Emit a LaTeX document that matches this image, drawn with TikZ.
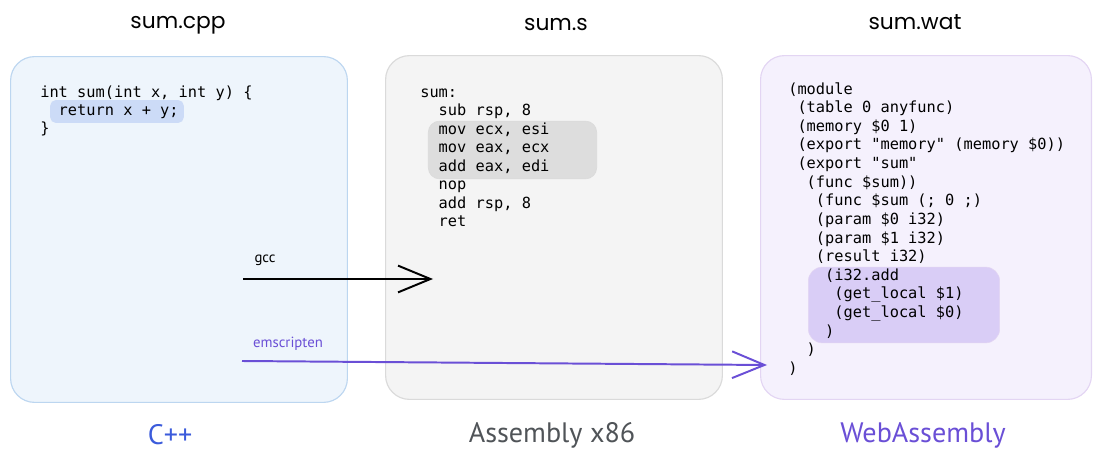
\documentclass[tikz,border=0pt]{standalone}
\usepackage{fontspec}
\setmonofont{DejaVu Sans Mono}
\newfontfamily\titlefont{Poppins}
\newfontfamily\handfont{PT Sans}
\usetikzlibrary{arrows.meta}
\definecolor{cppfill}{HTML}{EEF5FC}
\definecolor{cppline}{HTML}{BCD6F0}
\definecolor{cppmark}{HTML}{CCDBF7}
\definecolor{asmfill}{HTML}{F4F4F4}
\definecolor{asmline}{HTML}{DADADA}
\definecolor{asmmark}{HTML}{DDDDDD}
\definecolor{watfill}{HTML}{F5F1FD}
\definecolor{watline}{HTML}{E3D5F3}
\definecolor{watmark}{HTML}{D9CDF6}
\definecolor{cppblue}{HTML}{3B5BDB}
\definecolor{asmgray}{HTML}{505458}
\definecolor{wasmviolet}{HTML}{6A4FD6}

\begin{document}
\begin{tikzpicture}[x=0.025cm,y=-0.025cm,
  panel/.style={line width=0.8pt,rounded corners=17pt,inner sep=0pt},
  hilite/.style={rounded corners=6pt,inner sep=0pt},
  code/.style={anchor=base west,align=left,inner sep=0pt,font=\ttfamily\fontsize{10.9}{13.1}\selectfont},
  title/.style={font=\titlefont\fontsize{15.5}{18}\selectfont},
  lang/.style={inner sep=0pt,font=\handfont\fontsize{20}{24}\selectfont},
  tool/.style={font=\handfont\fontsize{10.5}{12}\selectfont},
  pass/.style={line width=1.4pt,-{Straight Barb[length=23pt,width=19pt]}}]
\useasboundingbox (0,0) rectangle (1093,452);

\node (cpp) [panel,fill=cppfill,draw=cppline,minimum width=239.5pt,minimum height=245.9pt] at (179,229.5) {};
\node (asm) [panel,fill=asmfill,draw=asmline,minimum width=239.5pt,minimum height=244.5pt] at (554,227.5) {};
\node (wat) [panel,fill=watfill,draw=watline,minimum width=235.3pt,minimum height=244.5pt] at (926,227.5) {};

\node (cppmk) [hilite,rounded corners=4pt,fill=cppmark,minimum width=95pt,minimum height=16.3pt] at (117,111.5) {};
\node (asmmk) [hilite,rounded corners=8pt,fill=asmmark,draw=asmline,minimum width=119.8pt,minimum height=41.1pt] at (512.5,150) {};
\node (watmk) [hilite,rounded corners=10pt,fill=watmark,draw=watline,minimum width=136.1pt,minimum height=53.9pt] at (904,305) {};

\node (cppcode) [code] at (40,134) {int sum(int x, int y) \{\\
~~return x + y;\\
\}};
\node (asmcode) [code] at (420,226.5) {sum:\\
~~sub rsp, 8\\
~~mov ecx, esi\\
~~mov eax, ecx\\
~~add eax, edi\\
~~nop\\
~~add rsp, 8\\
~~ret};
\node (watcode) [code,font=\ttfamily\fontsize{10.9}{13.25}\selectfont] at (788,373.5) {(module\\
~(table 0 anyfunc)\\
~(memory \$0 1)\\
~(export "memory" (memory \$0))\\
~(export "sum"\\
~~(func \$sum))\\
~~~(func \$sum (; 0 ;)\\
~~~(param \$0 i32)\\
~~~(param \$1 i32)\\
~~~(result i32)\\
~~~~(i32.add\\
~~~~~(get\_local \$1)\\
~~~~~(get\_local \$0)\\
~~~~)\\
~~)\\
)};

\node (cpptitle) [title] at (178,25) {sum.cpp};
\node (asmtitle) [title] at (556,25) {sum.s};
\node (wattitle) [title] at (915,22) {sum.wat};

\node (cpplang) [lang,text=cppblue] at (170,435) {C++};
\node (asmlang) [lang,text=asmgray] at (552,435) {Assembly x86};
\node (watlang) [lang,text=wasmviolet] at (923,435) {WebAssembly};

\coordinate (gccfrom) at (243,279);
\coordinate (gccto) at (433,279);
\coordinate (emfrom) at (242,361);
\coordinate (emto) at (767,365);
\draw[pass] (gccfrom) -- (gccto);
\draw[pass,wasmviolet] (emfrom) -- (emto);
\node (gcc) [tool] at (265,260) {gcc};
\node (em) [tool,text=wasmviolet] at (288,344) {emscripten};
\end{tikzpicture}
\end{document}
